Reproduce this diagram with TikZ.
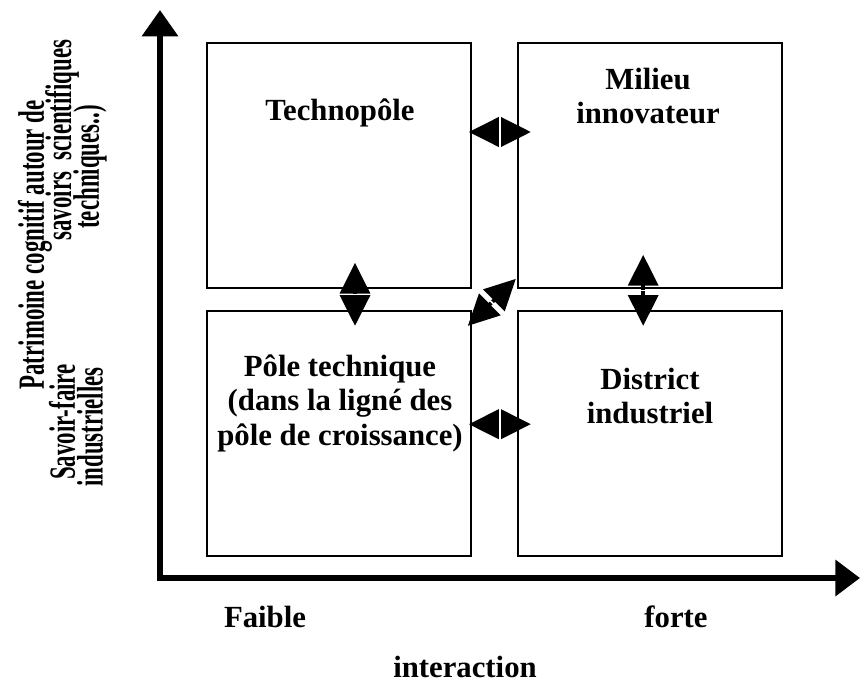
\documentclass[tikz,border=0pt]{standalone}
\usepackage{fontspec}
\usepackage{graphicx}
\setmainfont{Liberation Serif}
\usetikzlibrary{positioning, arrows.meta}

\newcommand{\narrowtxt}[1]{\scalebox{0.62}[1]{#1}}

\tikzset{
  box/.style={draw, line width=1pt, minimum width=5.28cm, minimum height=4.9cm},
  txt/.style={font=\fontsize{17.5}{19.6}\selectfont\bfseries, align=center},
  vtxt/.style={font=\fontsize{21}{15.3}\selectfont\bfseries, rotate=90, inner sep=0pt},
  dbl/.style={line width=2.2pt, {Triangle[width=17pt,length=17.5pt]}-{Triangle[width=17pt,length=17.5pt]}},
  gap/.style={midway, sloped, fill=white, inner sep=0pt, minimum width=0.9pt, minimum height=18pt},
  axis/.style={line width=3.4pt, {Triangle[width=20pt,length=15pt]}-{Triangle[width=20pt,length=14pt]}}
}

\begin{document}
\begin{tikzpicture}[x=0.02cm, y=-0.02cm]
        \useasboundingbox (0,0) rectangle (861,682);
        % quadrants
        \node[box] (techno) at (339,165.5) {};
        \node[box] (milieu) [right=0.9cm of techno] {};
        \node[box] (pole) [below=0.42cm of techno] {};
        \node[box] (district) [below=0.42cm of milieu] {};
        \node[txt] (technoTxt) at (340,113) {Technopôle};
        \node[txt] (milieuTxt) at (648,96) {Milieu\\innovateur};
        \node[txt] (poleTxt) at (340,403) {Pôle technique\\(dans la ligné des\\pôle de croissance)};
        \node[txt] (districtTxt) at (650,396) {District\\industriel};
        % axes
        \coordinate (O) at (160,578);
        \coordinate (ytop) at (160,10);
        \coordinate (xend) at (860,578);
        \draw[axis] (ytop) -- (O) -- (xend);
        \node[txt] (faible) at (265,617) {Faible};
        \node[txt] (forte) at (676,617) {forte};
        \node[txt] (inter) at (465,667) {interaction};
        \node[vtxt] (patri) at (35,245) {\narrowtxt{Patrimoine cognitif autour de}};
        \node[vtxt] (savoirs) at (62,140) {\narrowtxt{savoirs\ \ scientifiques}};
        \node[vtxt] (faire) at (62,422) {\narrowtxt{Savoir-faire}};
        \node[vtxt] (techn) at (90,167) {\narrowtxt{techniques..)}};
        \node[vtxt] (indus) at (90,427) {\narrowtxt{industrielles}};
        % links between quadrants
        \draw[dbl] ([shift={(-3,-33.5)}]techno.east) -- ([shift={(14,-33.5)}]milieu.west) node[gap] {};
        \draw[dbl] ([shift={(-3,-9)}]pole.east) -- ([shift={(14,-9)}]district.west) node[gap] {};
        \draw[dbl] ([shift={(16,-26)}]techno.south) -- ([shift={(16,16)}]pole.north) node[gap] {};
        \draw[dbl] ([shift={(-6.5,-34)}]milieu.south) -- ([shift={(-6.5,16)}]district.north) node[gap] {};
        \draw[dbl] ([shift={(-4,16)}]pole.north east) -- ([shift={(-1,-10)}]milieu.south west) node[gap] {};
\end{tikzpicture}
\end{document}
